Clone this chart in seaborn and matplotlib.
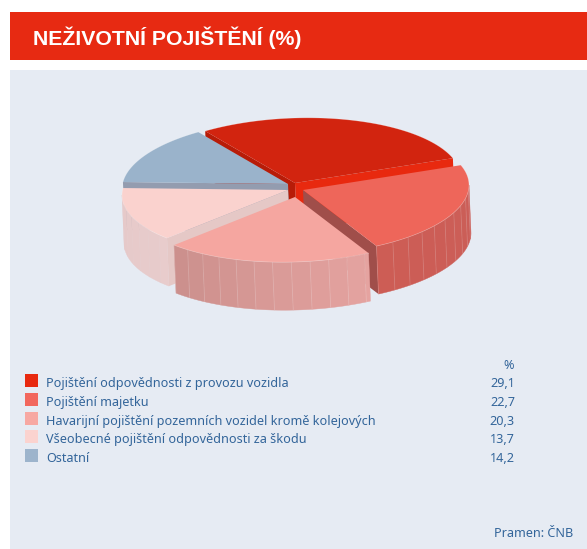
import numpy as np
import pandas as pd
import seaborn as sns
import matplotlib
matplotlib.use("Agg")
import matplotlib.pyplot as plt
from matplotlib.patches import Rectangle
from matplotlib.colors import to_rgb

# ---- data
categories = ["Pojištění odpovědnosti z provozu vozidla", "Pojištění majetku",
              "Havarijní pojištění pozemních vozidel kromě kolejových",
              "Všeobecné pojištění odpovědnosti za škodu", "Ostatní"]
values = [29.1, 22.7, 20.3, 13.7, 14.2]
value_labels = ["29,1", "22,7", "20,3", "13,7", "14,2"]
legend_colors = ["#E8290F", "#F2675D", "#F7A8A2", "#FBD3CF", "#9DB4CC"]
title = "NEŽIVOTNÍ POJIŠTĚNÍ (%)"
source = "Pramen: ČNB"

# ---- styles
top_colors = ["#D2240F", "#EE665A", "#F5A6A0", "#FAD2CE", "#9AB3CB"]
start_face = ["#E8290F", "#A04E4A", "#D9A09C", "#E5C8C6", "#939CAF"]
end_face = ["#B81C08", "#A04E4A", "#D9A09C", "#E5C8C6", "#939CAF"]
wall_from = ["#C0201A", "#CD5D55", "#CB8F8C", "#E5C8C8", "#939CAF"]
wall_to = ["#C0201A", "#CB5E58", "#E5A3A0", "#E8CCCC", "#939CAF"]
wall_line = [0.0, 0.14, 0.16, 0.0, 0.0]
apex_x = [295, 303, 295, 288, 288]
apex_y = [183, 190, 197, 190, 184]
draw_order = [0, 4, 1, 3, 2]
pie_sequence = [0, 4, 3, 2, 1]   # counter-clockwise order from the start angle
START = 18.0
A, B, SHEAR, DEPTH, DRIFT = 166.0, 65.0, 0.03, 48.0, 2.0
TEXT = "#33659A"
BODY_FONT = "Noto Sans"

sns.set_theme(style="white")
plt.rcParams["font.family"] = [BODY_FONT, "DejaVu Sans"]

fig = plt.figure(figsize=(5.87, 5.49), dpi=100, facecolor="white")
ax = fig.add_axes([0, 0, 1, 1])
ax.set_xlim(0, 587)
ax.set_ylim(549, 0)
ax.axis("off")

ax.add_patch(Rectangle((10, 12), 577, 48, fc="#E72A12", ec="none", zorder=0))
ax.add_patch(Rectangle((10, 70), 577, 479, fc="#E6EBF3", ec="none", zorder=0))
ax.text(33, 37.5, title, color="white", fontsize=15.3, fontweight="bold",
        family="Liberation Sans", va="center", ha="left", zorder=5)

# ---- pie angles from the values
angle_start = {}
angle_end = {}
cursor = START
for i in pie_sequence:
    angle_start[i] = cursor
    cursor += values[i] / sum(values) * 360
    angle_end[i] = cursor


def project(cx, cy, t):
    r = np.radians(t)
    x = A * np.cos(r)
    return cx + x, cy - B * np.sin(r) - SHEAR * x


def down(x, y, frac=1.0):
    return x + DRIFT * frac, y + DEPTH * frac


z = 1.0
for i in draw_order:
    cx, cy = apex_x[i], apex_y[i]
    t0, t1 = angle_start[i], angle_end[i]
    ts = np.linspace(t0, t1, 80)
    ax_, ay_ = project(cx, cy, ts)

    # radial faces that look towards the viewer
    for tt, col, vis in ((t0, start_face[i], np.sin(np.radians(t0 - 90)) < 0),
                         (t1, end_face[i], np.sin(np.radians(t1 + 90)) < 0)):
        if vis:
            ex, ey = project(cx, cy, tt)
            bx0, by0 = down(cx, cy)
            bx1, by1 = down(ex, ey)
            ax.fill([cx, ex, bx1, bx0], [cy, ey, by1, by0], color=col, lw=0, zorder=z)
            z += 0.01

    # outer wall, faceted
    w0 = max(t0, 180.0)
    w1 = min(t1, 360.0)
    if w1 > w0:
        edges = np.arange(w0, w1, 6.5)
        edges = np.append(edges, w1)
        c0, c1 = np.array(to_rgb(wall_from[i])), np.array(to_rgb(wall_to[i]))
        for a0, a1 in zip(edges[:-1], edges[1:]):
            seg = np.linspace(a0, a1, 6)
            sx, sy = project(cx, cy, seg)
            bx, by = down(sx, sy)
            f = ((a0 + a1) / 2 - w0) / (w1 - w0)
            col = tuple(c0 + (c1 - c0) * f)
            ax.fill(np.r_[sx, bx[::-1]], np.r_[sy, by[::-1]], color=col, lw=0.3, zorder=z)
            if wall_line[i] > 0:
                ax.plot([sx[0], bx[0]], [sy[0], by[0]], color="white",
                        alpha=wall_line[i], lw=0.6, zorder=z + 0.005)
        z += 0.01

    # top face
    ax.fill(np.r_[cx, ax_], np.r_[cy, ay_], color=top_colors[i], lw=0, zorder=z)
    ax.plot(ax_, ay_, color="white", alpha=0.3, lw=0.5, zorder=z + 0.005)
    z += 0.01

# ---- legend
legend = pd.DataFrame({"name": categories, "value": value_labels, "color": legend_colors})
legend["x"] = 31.5
legend["y"] = [380.5, 399.5, 418.5, 436.5, 455.5]
sns.scatterplot(data=legend, x="x", y="y", hue="name", palette=legend_colors, marker="s",
                s=88, linewidth=0, legend=False, ax=ax, zorder=6)
ax.set_xlim(0, 587)
ax.set_ylim(549, 0)
ax.axis("off")
text_y = [387, 406, 425, 443, 462]
for name, val, y in zip(categories, value_labels, text_y):
    ax.text(46, y, name, color=TEXT, fontsize=9.1, va="baseline", ha="left", zorder=6)
    ax.text(515, y, val, color=TEXT, fontsize=9.1, va="baseline", ha="right", zorder=6)
ax.text(514, 369, "%", color=TEXT, fontsize=9.1, va="baseline", ha="right", zorder=6)
ax.text(573, 537, source, color=TEXT, fontsize=9.1, va="baseline", ha="right", zorder=6)

fig.savefig("out.png", dpi=100, facecolor="white")
